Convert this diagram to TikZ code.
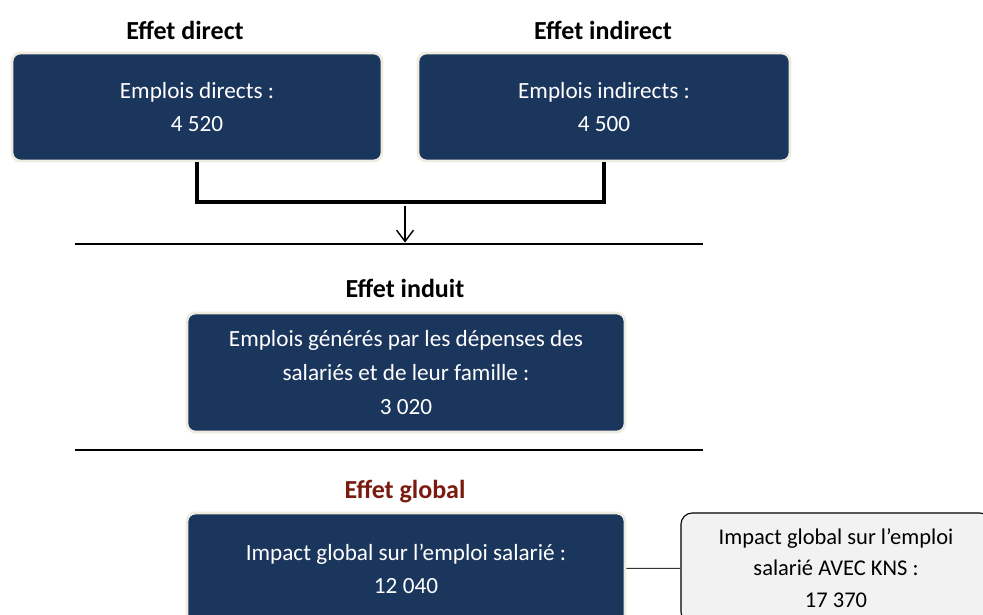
\documentclass[tikz,border=0pt]{standalone}
\usepackage{fontspec}
\setmainfont{Carlito}
\usepackage{tikz}
\usetikzlibrary{arrows.meta}

\definecolor{boxblue}{RGB}{27,54,93}
\definecolor{boxrim}{RGB}{238,236,225}
\definecolor{effetred}{RGB}{122,27,16}
\definecolor{kns}{RGB}{242,242,242}

\begin{document}
\begin{tikzpicture}[x=0.025cm,y=-0.025cm,
    heading/.style={font=\bfseries\fontsize{18.5}{22}\selectfont},
    bluebox/.style={draw=boxrim,line width=2pt,fill=boxblue,rounded corners=6pt,
        text=white,align=center,inner sep=0pt,font=\fontsize{16.5}{24}\selectfont},
    greybox/.style={draw=black,line width=0.8pt,fill=kns,rounded corners=8pt,
        align=center,inner sep=0pt,font=\fontsize{16}{22.5}\selectfont},
    rule/.style={draw=black,line width=1pt},
    bracket/.style={draw=black,line width=2.3pt}]
    \useasboundingbox (0,0) rectangle (983,615);

        \node[heading] (hdirect) at (185, 30)     {Effet direct};
        \node[heading] (hindirect) at (603, 30)     {Effet indirect};
        \node[bluebox,minimum width=9.25cm,minimum height=2.7cm] (direct) at (197, 107)     {Emplois directs :\\4 520};
        \node[bluebox,minimum width=9.3cm,minimum height=2.7cm] (indirect) at (604, 107)     {Emplois indirects :\\4 500};

        \coordinate (joint) at (405, 202);
        \coordinate (r1l) at (75, 244);
        \coordinate (r1m) at (405, 244);
        \coordinate (r1r) at (703, 244);

        \node[heading] (hinduit) at (405, 288)     {Effet induit};
        \node[bluebox,minimum width=10.95cm,minimum height=2.975cm] (induit) at (406, 372.5)     {Emplois générés par les dépenses des\\salariés et de leur famille :\\3 020};

        \coordinate (r2l) at (75, 450);
        \coordinate (r2r) at (703, 450);

        \node[heading,text=effetred] (hglobal) at (405, 492)     {Effet global};
        \node[bluebox,minimum width=10.95cm,minimum height=2.8cm] (global) at (406, 569)     {Impact global sur l’emploi salarié :\\12 040};
        \node[greybox,minimum width=7.75cm,minimum height=2.75cm] (avec) at (836, 568)     {Impact global sur l’emploi\\salarié AVEC KNS :\\17 370};

	\path[bracket] (direct.south) |- (joint) -| (indirect.south);
	\draw[line width=1pt,-{Straight Barb[length=8pt,width=12pt]}] ([yshift=-3pt]joint) -- ([yshift=1pt]r1m);
	\path[rule] (r1l) -- (r1r);
	\path[rule] (r2l) -- (r2r);
	\path[draw=black!80,line width=0.7pt] (global) -- (avec);
\end{tikzpicture}
\end{document}
